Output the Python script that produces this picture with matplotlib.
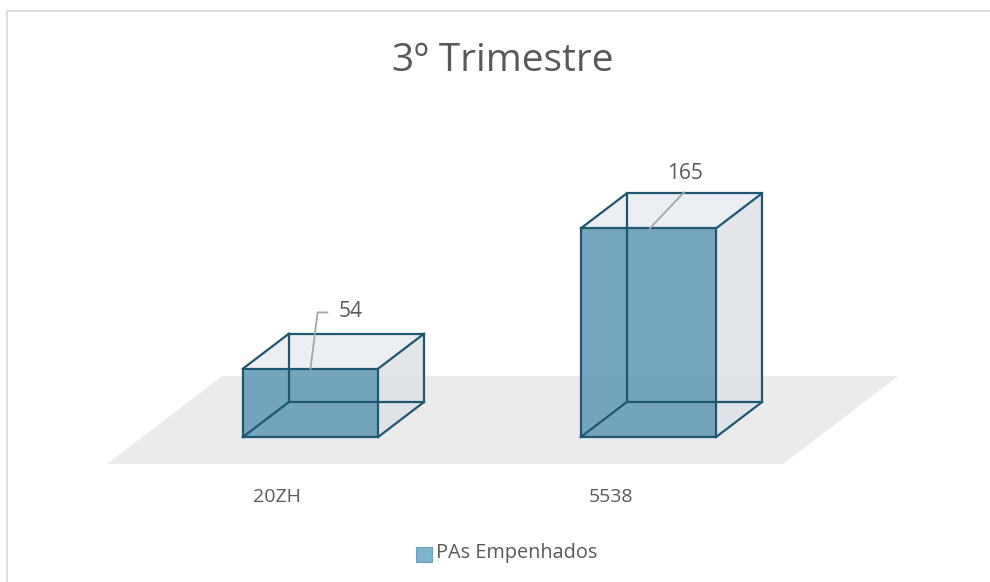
import matplotlib
matplotlib.use("Agg")
import matplotlib.pyplot as plt
from matplotlib.patches import Polygon, Rectangle
from matplotlib.lines import Line2D

plt.rcParams['font.family'] = ['Open Sans', 'DejaVu Sans']

# Data
categories = ["20ZH", "5538"]
values = [54, 165]
series_name = "PAs Empenhados"
title = "3º Trimestre"

# Styling
EDGE = "#1f5670"
FRONT = "#6a9fb8"
TOP = "#e9edf1"
SIDE = "#dde1e6"
FLOOR = "#ebebeb"
TEXT = "#595959"

BAR_W = 0.4       # bar width in category units
DEPTH_X = 0.136   # oblique depth offset (category units)
DEPTH_Y = 27.7    # oblique depth offset (value units)

fig = plt.figure(figsize=(9.9, 5.82), dpi=100)
ax = fig.add_axes([0, 0, 1, 1])
ax.set_xlim(-0.9186, 2.0104)
ax.set_ylim(-114.6, 345.5)
ax.axis("off")

# chart frame
fig.add_artist(Line2D([0.007, 0.007, 1.0], [0.0, 0.981, 0.981],
                      transform=fig.transFigure, color="#d9d9d9", lw=1.2))

# floor
n = len(categories)
fl_front = -21.3
fl_back = 48.2
fl_left = -0.602
fl_right = (n - 1) + 0.398
shift = (fl_back - fl_front) / DEPTH_Y * DEPTH_X
floor = Polygon([(fl_left, fl_front), (fl_right, fl_front),
                 (fl_right + shift, fl_back), (fl_left + shift, fl_back)],
                closed=True, facecolor=FLOOR, edgecolor="none", zorder=1)
ax.add_patch(floor)

for i, (cat, v) in enumerate(zip(categories, values)):
    x0 = i - BAR_W / 2
    x1 = i + BAR_W / 2
    dx, dy = DEPTH_X, DEPTH_Y
    # right side
    ax.add_patch(Polygon([(x1, 0), (x1 + dx, dy), (x1 + dx, v + dy), (x1, v)],
                         facecolor=SIDE, alpha=0.85, edgecolor="none", zorder=2))
    # top
    ax.add_patch(Polygon([(x0, v), (x1, v), (x1 + dx, v + dy), (x0 + dx, v + dy)],
                         facecolor=TOP, alpha=0.9, edgecolor="none", zorder=2))
    # front
    ax.add_patch(Rectangle((x0, 0), BAR_W, v, facecolor=FRONT, alpha=0.93,
                           edgecolor="none", zorder=3))
    # edges
    lw = 1.6
    segs = [
        ([x0, x1, x1, x0, x0], [0, 0, v, v, 0]),
        ([x0 + dx, x1 + dx, x1 + dx, x0 + dx, x0 + dx], [dy, dy, v + dy, v + dy, dy]),
        ([x0, x0 + dx], [0, dy]), ([x1, x1 + dx], [0, dy]),
        ([x0, x0 + dx], [v, v + dy]), ([x1, x1 + dx], [v, v + dy]),
    ]
    for xs, ys in segs:
        ax.plot(xs, ys, color=EDGE, lw=lw, zorder=4, solid_joinstyle="miter")

    # category label (sits slightly left of the bar, as in the 3D perspective)
    ax.text(i - 0.1 - 0.012 * i, -47.4, cat, ha="center", va="center",
            fontsize=14, color=TEXT, zorder=5)

# data labels with leader lines
ax.text(0 + 0.118, values[0] + 45, str(values[0]), ha="center", va="center",
        fontsize=15, color=TEXT, zorder=6)
ax.plot([0.0, 0.021, 0.05], [values[0], values[0] + 44.5, values[0] + 44.5],
        color="#a6a6a6", lw=1.3, zorder=6)
ax.text(1 + 0.108, values[1] + 43.5, str(values[1]), ha="center", va="center",
        fontsize=15, color=TEXT, zorder=6)
ax.plot([1.004, 1.105], [values[1], values[1] + 28.5],
        color="#a6a6a6", lw=1.3, zorder=6)

# title
fig.text(0.508, 1 - 61 / 582, title, ha="center", va="center",
         fontsize=28, color=TEXT)

# legend
fig.add_artist(Rectangle((416 / 990, 1 - 562 / 582), 16 / 990, 15 / 582,
                         transform=fig.transFigure, facecolor="#7db5d0",
                         edgecolor="#6aa0bb", lw=0.8))
fig.text(436 / 990, 1 - 553 / 582, series_name, ha="left", va="center",
         fontsize=14.3, color=TEXT)

fig.savefig("out.png", dpi=100)
